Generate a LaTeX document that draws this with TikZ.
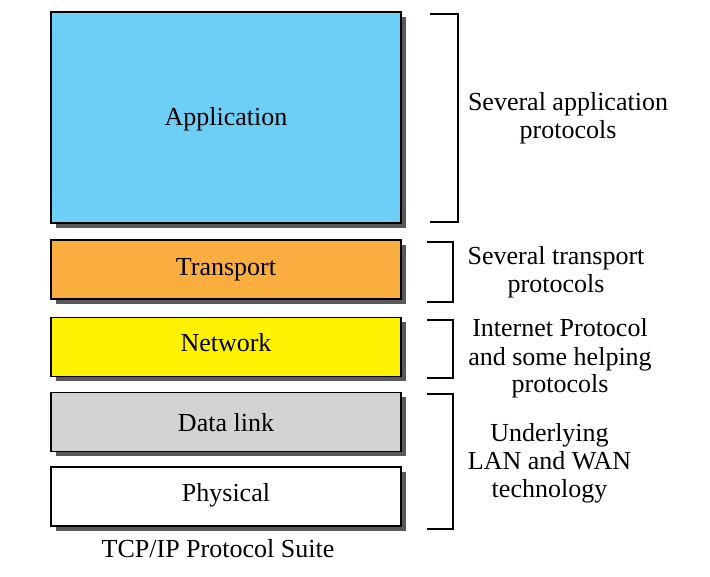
\documentclass[tikz,border=0pt]{standalone}
\usepackage{fontspec}
\setmainfont{Liberation Serif}
\usetikzlibrary{shadows}
\definecolor{appc}{HTML}{6DCFF6}
\definecolor{trc}{HTML}{FBAE40}
\definecolor{netc}{HTML}{FFF200}
\definecolor{dlc}{HTML}{D1D3D4}
\definecolor{shc}{HTML}{58595B}
\tikzset{
  layer/.style={draw=black, line width=1.2pt, minimum width=350pt,
    font=\fontsize{26}{28}\selectfont, inner sep=0pt, text depth=0pt,
    drop shadow={shadow xshift=5pt, shadow yshift=-5pt, opacity=1, fill=shc}},
  brk/.style={draw=black, line width=1.2pt},
  lbl/.style={align=center, font=\fontsize{26}{28}\selectfont, inner sep=0pt, anchor=base}
}
\begin{document}
\begin{tikzpicture}[x=1pt,y=-1pt]
\useasboundingbox (0,0) rectangle (710,577);
\node[layer, fill=appc, minimum height=211pt, text height=17pt] (app) at (226,117.5) {Application};
\node[layer, fill=trc, minimum height=59pt, text height=13pt] (tr) at (226,269.5) {Transport};
\node[layer, fill=netc, minimum height=59pt, text height=9pt] (net) at (226,347) {Network};
\node[layer, fill=dlc, minimum height=59pt, text height=20pt] (dl) at (226,421.7) {Data link};
\node[layer, fill=white, minimum height=59pt, text height=10pt] (ph) at (226,496.5) {Physical};
\node[lbl] (cap) at (218,557) {TCP/IP Protocol Suite};
% brackets
\coordinate (b1a) at (430,14); \coordinate (b1b) at (458,14);
\coordinate (b1c) at (458,222); \coordinate (b1d) at (430,222);
\draw[brk] (b1a) -- (b1b) -- (b1c) -- (b1d);
\coordinate (b2a) at (427,242); \coordinate (b2b) at (453,242);
\coordinate (b2c) at (453,302); \coordinate (b2d) at (427,302);
\draw[brk] (b2a) -- (b2b) -- (b2c) -- (b2d);
\coordinate (b3a) at (427,320); \coordinate (b3b) at (453,320);
\coordinate (b3c) at (453,378); \coordinate (b3d) at (427,378);
\draw[brk] (b3a) -- (b3b) -- (b3c) -- (b3d);
\coordinate (b4a) at (427,394); \coordinate (b4b) at (453,394);
\coordinate (b4c) at (453,529); \coordinate (b4d) at (427,529);
\draw[brk] (b4a) -- (b4b) -- (b4c) -- (b4d);
\node[lbl] (t1) at (568,139) {Several application\\protocols};
\node[lbl] (t2) at (556,293) {Several transport\\protocols};
\node[lbl] (t3) at (560,393) {Internet Protocol\\and some helping\\protocols};
\node[lbl] (t4) at (549.5,497) {Underlying\\LAN and WAN\\technology};
\end{tikzpicture}
\end{document}
